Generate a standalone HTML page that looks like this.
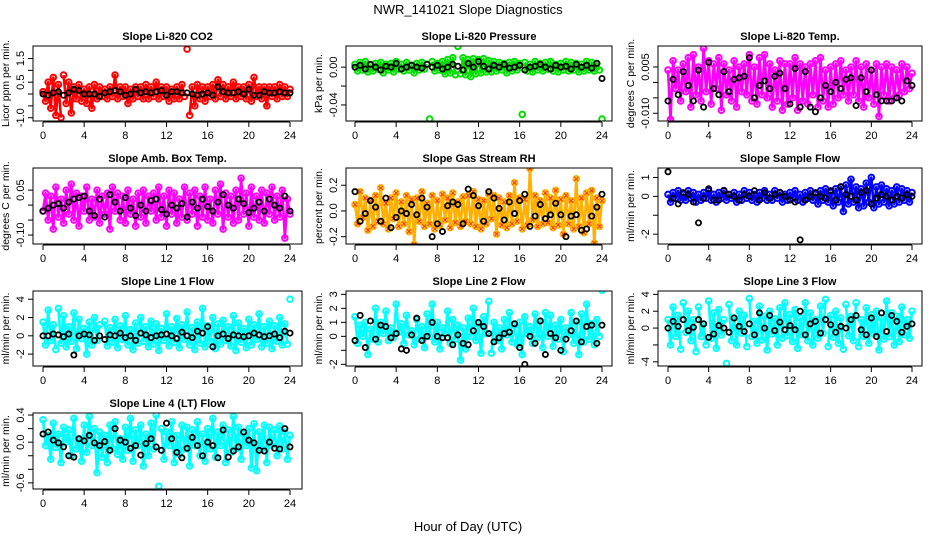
<!DOCTYPE html>
<html><head><meta charset="utf-8"><style>
html,body{margin:0;padding:0;background:#fff;}
svg{display:block;font-family:"Liberation Sans",Arial,sans-serif;}
</style></head><body>
<svg id="chart" width="936" height="540" viewBox="0 0 936 540" xmlns="http://www.w3.org/2000/svg">
<text x="468" y="14" font-size="13" text-anchor="middle">NWR_141021  Slope Diagnostics</text>
<text x="468" y="531" font-size="13" text-anchor="middle">Hour of Day (UTC)</text>
</svg>
<script>
const hourTicks=[0,4,8,12,16,20,24];
const c1=[0.1,-0.3,0.5,-0.6,0.7,-0.9,0.4,-1.0,0.8,-0.4,0.5,-0.8,0.3,-0.2,0.4,-0.3,0.2,-0.4,0.3,-0.6,0.4,-0.2,0.3,-0.1,0.2,-0.2,0.3,-0.1,0.8,-0.2,0.3,-0.1,0.3,-0.4,0.2,-0.2,0.3,-0.1,0.3,-0.2,0.4,-0.2,0.3,-0.1,0.5,-0.2,0.3,-0.1,0.3,-0.3,0.2,-0.2,0.3,-0.2,0.4,-0.1,1.9,-0.9,0.3,-0.5,0.4,-0.2,0.3,-0.3,0.3,-0.1,0.4,-0.2,0.6,-0.1,0.4,-0.2,0.3,-0.1,0.5,-0.2,0.3,-0.1,0.3,-0.2,0.4,-0.3,0.7,-0.1,0.3,-0.2,0.3,-0.5,0.3,-0.1,0.3,-0.2,0.4,-0.1,0.3,-0.1,0.2];
const b1=[0.0,-0.05,0.05,0.1,-0.05,0.05,0.2,0.15,0.0,0.0,0.0,-0.1,0.05,0.1,0.15,0.1,-0.05,0.0,0.2,0.05,0.1,0.05,0.1,0.15,-0.05,0.1,0.1,0.05,0.05,0.0,-0.05,0.0,0.05,-0.05,0.3,0.1,0.05,0.05,0.1,0.0,0.2,-0.05,-0.05,0.1,0.05,0.05,0.1,0.05,0.05];
const c2=[0.003,-0.004,0.005,-0.003,0.006,-0.005,0.002,-0.004,0.004,-0.002,0.005,-0.006,0.003,-0.003,0.004,-0.005,0.006,-0.002,0.003,-0.004,0.005,-0.003,0.002,-0.006,0.004,-0.003,0.005,-0.002,0.003,-0.055,0.006,-0.004,0.004,-0.003,0.006,-0.007,0.008,-0.006,0.01,-0.008,0.022,-0.007,0.01,-0.008,0.008,-0.01,0.009,-0.007,0.008,-0.006,0.009,-0.005,0.007,-0.005,0.006,-0.004,0.005,-0.003,0.004,-0.006,0.005,-0.004,0.006,-0.003,0.004,-0.05,0.005,-0.004,0.003,-0.005,0.006,-0.003,0.004,-0.004,0.005,-0.002,0.006,-0.004,0.003,-0.005,0.004,-0.003,0.006,-0.004,0.005,-0.003,0.004,-0.005,0.003,-0.004,0.006,-0.003,0.005,-0.004,0.004,-0.003,-0.055];
const b2=[0,0.002,-0.002,0.003,0,-0.003,0.001,0,0.004,-0.002,0,0.002,0,-0.001,0.003,0,0.002,-0.002,0,0.003,0.001,-0.003,0.004,0,0.006,0.001,-0.002,0.002,0,0.003,-0.001,0,0.002,-0.003,0,0.001,0.003,0,-0.002,0.002,0,0.001,-0.002,0.003,0,0.002,-0.001,0.004,-0.012];
const c3=[0.004,-0.012,0.007,-0.002,0.004,-0.006,0.006,-0.003,0.008,-0.008,0.009,-0.004,0.005,-0.006,0.011,-0.003,0.007,-0.007,0.006,-0.002,0.008,-0.009,0.006,-0.004,0.004,-0.006,0.007,-0.008,0.005,-0.003,0.006,-0.004,0.009,-0.006,0.005,-0.007,0.008,-0.004,0.009,-0.005,0.006,-0.008,0.004,-0.006,0.007,-0.009,0.006,-0.007,0.006,-0.005,0.008,-0.009,0.006,-0.006,0.005,-0.007,0.006,-0.004,0.007,-0.008,0.008,-0.006,0.004,-0.008,0.005,-0.007,0.006,-0.005,0.007,-0.004,0.004,-0.006,0.005,-0.004,0.007,-0.006,0.005,-0.008,0.006,-0.005,0.004,-0.007,0.006,-0.011,0.005,-0.004,0.006,-0.006,0.005,-0.005,0.004,-0.004,0.006,-0.003,0.005,-0.002,0.003];
const b3=[-0.006,0.001,-0.004,0.0035,-0.001,-0.006,0.004,-0.008,0.0065,-0.002,-0.004,0.0035,-0.003,0.001,0.0015,0.002,0.008,-0.005,-0.001,0.0005,-0.002,0.002,0.003,-0.002,-0.007,0.0045,-0.008,0.0035,-0.008,-0.0095,-0.005,-0.001,-0.003,0.0,-0.002,0.001,0.0015,-0.0075,0.0015,-0.003,0.004,-0.004,-0.006,-0.006,-0.006,-0.005,-0.006,0.0005,-0.001];
const c4=[-0.02,0.04,-0.05,0.03,-0.08,0.06,-0.04,0.02,-0.06,0.05,-0.03,0.07,-0.05,0.04,-0.07,0.03,-0.02,0.06,-0.05,0.02,-0.04,0.05,-0.06,0.03,-0.03,0.04,-0.08,0.06,-0.02,0.04,-0.05,0.03,-0.06,0.05,-0.03,0.02,-0.07,0.04,-0.04,0.05,-0.06,0.03,-0.02,0.04,-0.05,0.06,-0.04,0.03,-0.07,0.05,-0.03,0.04,-0.06,0.02,-0.04,0.06,-0.05,0.04,-0.03,0.05,-0.07,0.03,-0.04,0.06,-0.05,0.02,-0.06,0.05,-0.03,0.07,-0.08,0.04,-0.04,0.03,-0.06,0.05,-0.05,0.09,-0.03,0.04,-0.07,0.06,-0.04,0.03,-0.05,0.05,-0.06,0.04,-0.03,0.06,-0.05,0.03,-0.04,0.05,-0.11,0.02,-0.03];
const b4=[-0.02,-0.01,0.0,0.005,-0.01,0.01,0.02,0.025,0.03,-0.02,-0.035,0.02,-0.04,0.035,0.01,-0.02,0.025,-0.01,-0.035,0.0,-0.02,0.015,0.02,-0.015,-0.03,0.0,-0.01,0.005,-0.04,0.01,-0.01,0.02,-0.005,-0.02,0.01,0.035,0.0,-0.01,0.02,0.005,-0.025,-0.01,0.01,-0.02,0.02,0.0,-0.01,0.03,-0.02];
const c5=[0.05,-0.1,0.15,-0.05,0.1,-0.15,0.08,-0.12,0.12,-0.08,0.18,-0.1,0.06,-0.14,0.1,-0.06,0.14,-0.12,0.07,-0.1,0.12,-0.16,0.09,-0.26,0.1,-0.08,0.15,-0.12,0.06,-0.1,0.12,-0.14,0.08,-0.11,0.13,-0.07,0.1,-0.13,0.14,-0.09,0.07,-0.12,0.11,-0.08,0.12,-0.1,0.15,-0.12,0.09,-0.14,0.08,-0.1,0.13,-0.06,0.12,-0.18,0.1,-0.11,0.07,-0.13,0.12,-0.1,0.22,-0.08,0.1,-0.14,0.09,-0.11,0.33,-0.07,0.12,-0.12,0.08,-0.1,0.14,-0.09,0.1,-0.13,0.16,-0.11,0.09,-0.18,0.12,-0.1,0.08,-0.14,0.25,-0.12,0.1,-0.17,0.14,-0.1,0.16,-0.25,0.1,-0.12,0.08];
const b5=[0.15,-0.08,-0.02,0.08,0.03,-0.08,0.1,-0.13,-0.05,0.0,-0.02,0.05,-0.03,0.1,0.03,-0.2,-0.1,-0.16,0.04,0.07,0.05,-0.1,0.17,0.12,0.04,-0.08,0.15,0.1,0.02,-0.07,0.07,-0.02,0.08,0.13,-0.12,-0.04,0.05,-0.06,-0.03,0.06,-0.03,-0.2,-0.04,-0.03,-0.15,-0.14,-0.04,0.03,0.13];
const c6=[0.1,-0.3,0.2,-0.1,0.3,-0.2,0.1,-0.2,0.3,-0.1,0.2,-0.3,0.1,-0.2,0.2,-0.1,0.3,-0.2,0.1,-0.3,0.2,-0.1,0.3,-0.2,0.1,-0.1,0.2,-0.3,0.1,-0.2,0.3,-0.1,0.2,-0.2,0.1,-0.3,0.2,-0.1,0.3,-0.2,0.1,-0.2,0.3,-0.1,0.2,-0.3,0.1,-0.2,0.2,-0.1,0.3,-0.2,0.1,-0.3,0.2,-0.1,0.3,-0.2,0.1,-0.4,0.3,-0.2,0.4,-0.3,0.2,-0.5,0.4,-0.3,0.5,-0.8,0.6,-0.4,0.9,-0.3,0.5,-0.6,0.4,-0.5,0.7,-0.3,1.0,-0.6,0.5,-0.4,0.6,-0.3,0.4,-0.5,0.3,-0.4,0.5,-0.3,0.4,-0.2,0.3,-0.3,0.2];
const b6=[1.3,-0.1,-0.4,0.2,0.1,-0.3,-1.4,-0.1,0.4,-0.2,-0.2,0.3,0.1,0.0,-0.2,0.1,0.0,0.3,-0.2,0.2,-0.1,0.1,0.2,0.0,-0.2,-0.3,-2.3,-0.2,0.0,0.2,0.0,-0.1,0.3,-0.2,0.5,0.1,0.0,-0.2,0.2,0.3,-0.4,-0.1,0.1,0.0,-0.2,0.0,-0.1,0.1,0.0];
const c7=[1.5,-1.0,2.8,-0.5,1.2,-1.5,3.0,-0.8,2.2,-1.2,1.0,-0.6,2.5,-1.4,1.8,-0.3,0.8,-2.0,1.5,-1.0,2.0,-0.5,1.2,-3.8,1.6,-1.1,0.9,-0.7,1.8,-1.3,1.1,-0.4,2.2,-1.0,0.7,-1.5,1.4,-0.8,2.0,-0.6,1.0,-1.2,1.6,-0.9,1.3,-1.6,0.8,-0.5,2.4,-1.1,1.0,-0.7,1.9,-1.3,1.2,-0.4,2.6,-1.0,0.9,-1.5,1.5,-0.8,3.0,-1.2,1.1,-0.6,2.0,-1.4,1.3,-0.9,1.7,-0.5,1.0,-1.1,2.2,-1.6,1.4,-0.7,0.8,-1.3,1.8,-1.0,1.2,-0.4,2.4,-1.2,1.0,-0.8,1.6,-1.4,1.1,-0.6,2.0,-1.0,1.3,-0.9,4.0];
const b7=[0.0,0.0,0.2,0.1,-0.1,0.2,-2.1,0.0,0.2,0.1,-0.5,0.0,-0.4,0.1,0.0,0.3,-0.2,0.0,-0.5,0.3,0.1,-0.2,0.0,0.1,0.2,0.0,-0.3,0.4,0.0,-0.2,0.5,0.3,1.0,-1.2,0.0,0.2,-0.3,0.1,0.0,-0.1,0.0,0.3,0.1,-0.1,0.0,0.2,-0.2,0.5,0.3];
const c8=[1.4,-0.5,0.8,0.0,1.0,-1.3,0.5,-0.2,2.0,-0.4,1.0,0.2,1.8,-0.3,0.6,-0.1,2.3,0.3,0.9,-0.5,1.5,0.1,0.4,-0.6,1.2,-0.2,0.7,-0.8,1.6,0.0,2.3,-0.4,1.0,-0.9,0.6,0.2,1.8,-0.5,1.2,-0.2,0.8,-1.7,0.6,-0.9,1.3,0.0,2.0,-0.3,0.9,-1.2,1.4,0.2,2.5,-1.2,1.0,-0.3,0.6,-0.9,1.2,0.1,1.7,-0.4,0.8,-0.6,1.0,-1.3,1.4,0.2,0.7,-0.5,1.6,-0.1,1.1,-0.8,1.7,0.0,1.5,-0.7,0.8,-0.2,1.2,-1.1,0.6,0.1,1.7,-0.5,1.0,-1.3,1.6,-0.4,2.3,-0.2,0.9,-0.6,1.2,0.0,3.3];
const b8=[-0.3,1.5,-0.8,1.1,-0.2,0.8,0.7,-0.1,0.2,-0.9,-1.0,0.1,1.3,-0.3,0.0,1.0,0.0,-0.1,-0.1,-0.6,0.1,-0.5,-0.6,0.4,1.0,0.7,0.2,-0.4,-0.1,0.2,0.3,0.9,-0.8,-2.0,0.0,-0.5,1.1,-1.3,0.2,-0.1,-1.0,-0.2,0.4,1.1,-0.4,0.7,0.8,-0.5,0.8];
const c9=[1.0,-2.0,2.5,-1.0,1.5,-2.5,3.0,-0.5,2.0,-1.5,1.0,-2.8,2.5,-1.0,0.5,-2.0,3.2,-1.2,1.8,-2.4,2.2,-0.8,1.0,-4.2,2.8,-1.5,1.2,-2.0,2.0,-0.6,1.5,-2.2,3.5,-1.0,0.8,-1.8,2.6,-1.4,1.4,-2.6,2.0,-0.7,1.1,-2.0,2.4,-1.2,3.0,-0.9,1.6,-1.6,2.2,-2.4,1.2,-0.8,3.0,-1.5,1.8,-2.0,1.0,-1.2,2.6,-0.6,3.4,-2.2,1.5,-1.1,2.0,-1.8,1.2,-2.5,2.8,-0.9,1.4,-1.5,3.0,-2.2,1.0,-1.0,2.4,-1.8,1.6,-0.7,2.0,-2.6,1.2,-1.3,3.2,-1.0,1.8,-2.0,1.4,-1.6,2.5,-0.8,1.0,-1.2,2.0];
const b9=[0.0,0.8,0.2,1.0,-0.3,0.1,1.0,0.5,-1.1,-0.7,0.3,0.0,-0.5,1.2,0.2,-0.4,0.5,-0.8,1.8,0.0,1.5,-0.3,0.7,-0.2,0.3,-0.2,2.0,-0.8,0.5,0.8,-0.6,1.0,0.4,-0.5,0.2,0.0,1.0,1.5,-0.2,-0.8,1.2,-1.0,1.8,-0.4,1.5,0.8,-0.5,0.2,0.5];
const c10=[0.33,-0.05,0.1,-0.25,0.28,-0.08,0.12,-0.3,0.22,0.0,0.18,-0.2,0.35,-0.1,0.05,-0.28,0.25,-0.15,0.38,-0.05,0.2,-0.45,0.15,-0.22,0.1,-0.3,0.25,-0.1,0.3,-0.18,0.05,-0.25,0.22,-0.12,0.35,-0.28,0.18,-0.05,0.25,-0.35,0.12,-0.2,0.28,-0.1,0.4,-0.65,0.2,-0.25,0.15,-0.05,0.3,-0.3,0.1,-0.18,0.25,-0.1,0.22,-0.35,0.18,-0.05,0.3,-0.2,0.12,-0.28,0.2,-0.1,0.35,-0.22,0.15,-0.05,0.25,-0.3,0.18,-0.15,0.38,-0.1,0.22,-0.25,0.12,-0.05,0.2,-0.38,0.27,-0.42,0.15,-0.1,0.25,-0.3,0.22,-0.05,0.18,-0.2,0.24,-0.1,0.15,-0.25,0.1];
const b10=[0.12,0.15,0.03,-0.01,-0.07,-0.2,-0.22,0.05,0.02,0.1,-0.01,-0.05,0.01,-0.12,0.2,0.03,0.0,-0.09,-0.05,-0.19,-0.02,0.05,-0.07,-0.12,0.28,0.05,-0.15,-0.23,-0.09,0.07,-0.05,-0.2,0.0,-0.05,-0.23,0.18,-0.22,-0.13,-0.07,0.15,0.03,-0.01,-0.12,-0.13,0.0,-0.09,-0.1,0.2,-0.07];
const titles=["Slope Li-820 CO2","Slope Li-820 Pressure","Slope Li-820 Temp.","Slope Amb. Box Temp.","Slope Gas Stream RH","Slope Sample Flow","Slope Line 1 Flow","Slope Line 2 Flow","Slope Line 3 Flow","Slope Line 4 (LT) Flow"];
const yTitles=["Licor ppm per min.","kPa per min.","degrees C per min.","degrees C per min.","percent per min.","ml/min per min.","ml/min per min.","ml/min per min.","ml/min per min.","ml/min per min."];
const yTicks=[[-1,-0.5,0,0.5,1,1.5],[-0.04,-0.02,0],[-0.01,-0.005,0,0.005],[-0.1,-0.05,0,0.05],[-0.2,0,0.2],[-2,-1,0,1],[-2,0,2,4],[-2,-1,0,1,2,3],[-4,-2,0,2,4],[-0.6,-0.4,-0.2,0,0.2,0.4]];
const yTickLabels=[["-1.0","","","0.5","","1.5"],["-0.04","","0.00"],["-0.010","","","0.005"],["-0.10","","","0.05"],["-0.2","0.0","0.2"],["-2","","0","1"],["-2","0","2","4"],["-2","","0","1","2","3"],["-4","","0","2","4"],["-0.6","","","0.0","","0.4"]];
const yDomains=[[-1.14,2.03],[-0.057,0.0224],[-0.0125,0.0118],[-0.13,0.124],[-0.257,0.334],[-2.52,1.5],[-3.3,4.9],[-2.12,3.24],[-4.5,4.4],[-0.69,0.43]];
const colValues=[c1,c2,c3,c4,c5,c6,c7,c8,c9,c10];
const blackValues=[b1,b2,b3,b4,b5,b6,b7,b8,b9,b10];

// layout / style (not data)
const colors=["#ff0000","#00e000","#ff00ff","#ff00ff","#ffb000","#0000ff","#00ffff","#00ffff","#00ffff","#00ffff"];
const maxJumpPx=[40,25,62,62,62,50,40,44,40,50];
const cols=[{l:33,r:302,x0:43,x24:290},{l:346,r:612,x0:355,x24:602},{l:658,r:922,x0:668,x24:912}];
const rows=[{t:46,b:121},{t:168,b:244},{t:291,b:366},{t:413,b:489}];
const NS="http://www.w3.org/2000/svg";
const svg=document.getElementById('chart');
function mk(tag,attrs,parent){const e=document.createElementNS(NS,tag);for(const k in attrs)e.setAttribute(k,attrs[k]);(parent||svg).appendChild(e);return e;}

for(let p=0;p<10;p++){
  const c=cols[p%3], r=rows[Math.floor(p/3)];
  const dom=yDomains[p];
  const xs=h=>c.x0+(c.x24-c.x0)*h/24;
  const ys=v=>r.b-(v-dom[0])/(dom[1]-dom[0])*(r.b-r.t);
  const g=mk('g',{});
  
  
  const clipId='clip'+p;
  const cp=mk('clipPath',{id:clipId},g);
  mk('rect',{x:c.l,y:r.t,width:c.r-c.l,height:r.b-r.t},cp);
  const t=mk('text',{x:(c.l+c.r)/2,y:r.t-6,'font-size':11,'font-weight':'bold','text-anchor':'middle'},g);
  t.textContent=titles[p];
  
  
  const cg=mk('g',{'clip-path':'url(#'+clipId+')'},g);
  
  
  const cv=colValues[p];
  const pts=cv.map((v,i)=>[xs(i*24/(cv.length-1)),ys(v)]);
  let d='';
  pts.forEach((q,i)=>{
    const brk=i===0||Math.abs(q[1]-pts[i-1][1])>maxJumpPx[p];
    d+=(brk?'M':'L')+q[0].toFixed(1)+','+q[1].toFixed(1);
  });
  const zig=mk('path',{d:d,fill:'none',stroke:colors[p],'stroke-width':2.6,'stroke-linejoin':'round'},cg);
  
  
  pts.forEach(([x,y])=>{
    const pt=mk('circle',{cx:x,cy:y,r:2.8,fill:'none',stroke:colors[p],'stroke-width':2},cg);
    
    
    if(p===4){
      const xm=mk('path',{d:`M${x-2},${y-2}L${x+2},${y+2}M${x-2},${y+2}L${x+2},${y-2}`,stroke:'#ff3000','stroke-width':1},cg);
      
      
    }
  });
  const bg=mk('g',{'clip-path':'url(#'+clipId+')'},g);
  
  
  const bv=blackValues[p];
  bv.forEach((v,i)=>{
    const pt=mk('circle',{cx:xs(i*24/(bv.length-1)),cy:ys(v),r:2.6,fill:'none',stroke:'#000','stroke-width':1.8},bg);
    
    
  });
  const box=mk('rect',{x:c.l,y:r.t,width:c.r-c.l,height:r.b-r.t,fill:'none',stroke:'#000','stroke-width':1},g);
  
  
  const xa=mk('g',{},g);
  
  
  mk('line',{x1:xs(0),x2:xs(24),y1:r.b+1,y2:r.b+1,stroke:'#000'},xa);
  hourTicks.forEach(h=>{
    mk('line',{x1:xs(h),x2:xs(h),y1:r.b+1,y2:r.b+6,stroke:'#000'},xa);
    const tl=mk('text',{x:xs(h),y:r.b+18,'font-size':11,'text-anchor':'middle'},xa);
    tl.textContent=h;
    
    
  });
  const ya=mk('g',{},g);
  
  
  const tk=yTicks[p];
  mk('line',{x1:c.l,x2:c.l,y1:ys(tk[0]),y2:ys(tk[tk.length-1]),stroke:'#000'},ya);
  tk.forEach((v,i)=>{
    const y=ys(v);
    mk('line',{x1:c.l-5,x2:c.l,y1:y,y2:y,stroke:'#000'},ya);
    const lab=yTickLabels[p][i];
    if(lab){
      const tl=mk('text',{x:0,y:0,'font-size':11,'text-anchor':'middle',transform:`translate(${c.l-9},${y}) rotate(-90)`},ya);
      tl.textContent=lab;
      
      
    }
  });
  const yt=mk('text',{x:0,y:0,'font-size':10.5,'text-anchor':'middle',transform:`translate(${c.l-24},${(r.t+r.b)/2}) rotate(-90)`},g);
  yt.textContent=yTitles[p];
  
  
}
</script>
</body></html>
